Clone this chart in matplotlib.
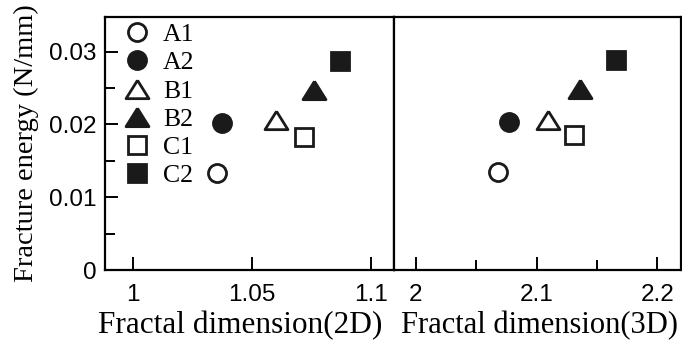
import numpy as np
import matplotlib
matplotlib.use('Agg')
import matplotlib.pyplot as plt
from matplotlib.ticker import FixedLocator, FixedFormatter

# data
labels = ['A1', 'A2', 'B1', 'B2', 'C1', 'C2']
markers = ['o', 'o', 'tri', 'tri', 's', 's']
filled = [False, True, False, True, False, True]
dim_2d = [1.0354, 1.0375, 1.0601, 1.0761, 1.0719, 1.0870]
dim_3d = [2.068, 2.077, 2.109, 2.136, 2.131, 2.166]
energy_2d = [0.0133, 0.0202, 0.0206, 0.0247, 0.0183, 0.0287]
energy_3d = [0.0135, 0.0203, 0.0206, 0.0248, 0.0186, 0.0288]

serif = 'Liberation Serif'
sans = 'Liberation Sans'
ink = '#1a1a1a'

# flat triangle, a bit wider than tall
tri = [(0, 0.8), (-1, -0.8), (1, -0.8), (0, 0.8)]
shape = {'o': 'o', 's': 's', 'tri': tri}
sizes = {'o': 13, 's': 13, 'tri': 16.5}

fig = plt.figure(figsize=(6.82, 3.42), dpi=100)
ax1 = fig.add_axes([0.154, 0.2105, 0.4238, 0.7407])
ax2 = fig.add_axes([0.5777, 0.2105, 0.4208, 0.7407])

for ax, xs, ys in [(ax1, dim_2d, energy_2d), (ax2, dim_3d, energy_3d)]:
    for i in range(len(labels)):
        face = ink if filled[i] else 'white'
        ax.plot(xs[i], ys[i], linestyle='none', marker=shape[markers[i]],
                markersize=sizes[markers[i]], markerfacecolor=face,
                markeredgecolor=ink, markeredgewidth=2.0, label=labels[i])
    ax.set_ylim(0, 0.0348)
    for s in ax.spines.values():
        s.set_linewidth(1.6)
    ax.tick_params(which='both', direction='in', width=1.4, colors='black',
                   top=False, right=False)
    ax.tick_params(which='major', length=9.5)
    ax.tick_params(which='minor', length=7)

ax1.set_xlim(0.9883, 1.1098)
ax1.xaxis.set_major_locator(FixedLocator([1.0, 1.05, 1.1]))
ax1.xaxis.set_major_formatter(FixedFormatter(['1', '1.05', '1.1']))
ax1.yaxis.set_major_locator(FixedLocator([0, 0.01, 0.02, 0.03]))
ax1.yaxis.set_major_formatter(FixedFormatter(['0', '0.01', '0.02', '0.03']))
ax1.yaxis.set_minor_locator(FixedLocator([0.005, 0.015, 0.025]))
ax1.tick_params(axis='x', pad=10)
ax1.tick_params(axis='y', pad=6)

ax2.set_xlim(1.9818, 2.2195)
ax2.xaxis.set_major_locator(FixedLocator([2.0, 2.1, 2.2]))
ax2.xaxis.set_major_formatter(FixedFormatter(['2', '2.1', '2.2']))
ax2.xaxis.set_minor_locator(FixedLocator([2.05, 2.15]))
ax2.tick_params(axis='x', pad=10)
ax2.tick_params(axis='y', which='both', left=False, labelleft=False)

for ax in (ax1, ax2):
    for t in ax.get_xticklabels() + ax.get_yticklabels():
        t.set_family(sans)
        t.set_fontsize(17.5)

ax1.set_xlabel('Fractal dimension(2D)', family=serif, fontsize=22.5)
ax1.xaxis.set_label_coords(0.467, -0.16)
ax2.set_xlabel('Fractal dimension(3D)', family=serif, fontsize=22)
ax2.xaxis.set_label_coords(0.507, -0.16)
ax1.set_ylabel('Fracture energy (N/mm)', family=serif, fontsize=20.5)
ax1.yaxis.set_label_coords(-0.228, 0.5)

ax1.legend(loc='upper left', bbox_to_anchor=(0.005, 1.045), frameon=False,
           numpoints=1, handlelength=1.0, handletextpad=0.5,
           labelspacing=0.2, borderaxespad=0.3,
           prop={'family': serif, 'size': 18.5})

fig.savefig('out.png', dpi=100)
